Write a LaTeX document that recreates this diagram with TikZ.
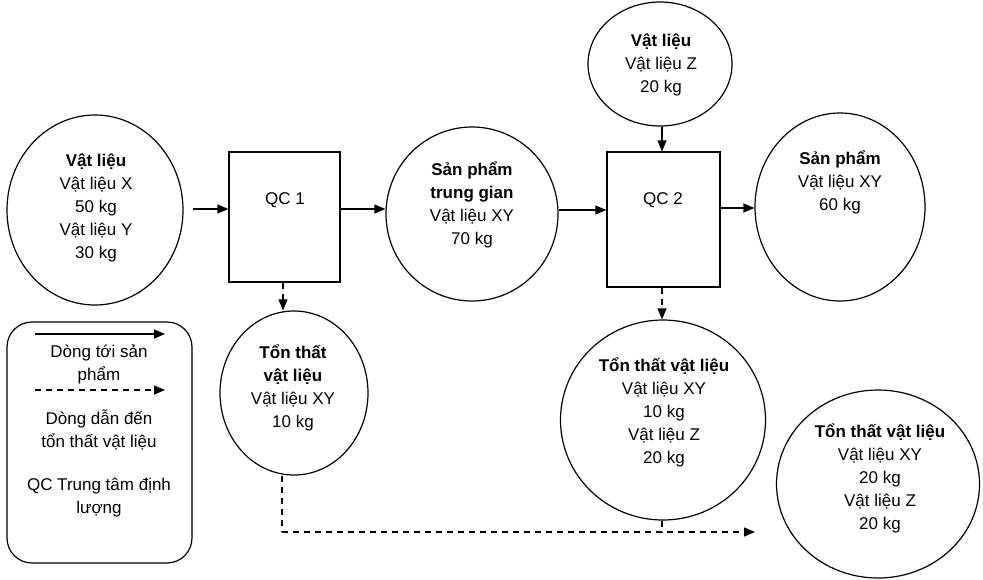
\documentclass[tikz,border=0pt]{standalone}
\usepackage{fontspec}
\setmainfont{Liberation Sans}
\usetikzlibrary{shapes.geometric,arrows.meta,calc}
\begin{document}
\begin{tikzpicture}[x=1pt,y=-1pt,
  every node/.style={font=\fontsize{17}{23}\selectfont},
  blob/.style={draw,ellipse,line width=1.2pt,inner sep=0pt},
  qcbox/.style={draw,rectangle,line width=1.2pt,inner sep=0pt},
  txt/.style={align=center,inner sep=0pt},
  flow/.style={line width=1.2pt,-{Triangle[length=11pt,width=9pt]}},
  lossflow/.style={line width=1.2pt,dash pattern=on 6pt off 5pt,-{Triangle[length=11pt,width=9pt]}},
  lossline/.style={line width=1.2pt,dash pattern=on 6pt off 5pt}
]
\useasboundingbox (0,0) rectangle (983,579);

% circles
\node[blob,minimum width=176pt,minimum height=190pt] (c1) at (95,210) {};
\node[blob,minimum width=172pt,minimum height=174pt] (c2) at (472,214) {};
\node[blob,minimum width=144pt,minimum height=124pt] (cz) at (660,64) {};
\node[blob,minimum width=170pt,minimum height=188pt] (c3) at (840,207) {};
\node[blob,minimum width=148pt,minimum height=164pt] (l1) at (294,393) {};
\node[blob,minimum width=205pt,minimum height=200pt] (l2) at (663,420) {};
\node[blob,minimum width=203pt,minimum height=188pt] (l3) at (878,484) {};

% boxes
\node[qcbox,minimum width=111pt,minimum height=130pt] (q1) at (284.5,217) {};
\node[qcbox,minimum width=113pt,minimum height=135pt] (q2) at (663.5,219.5) {};
\node[txt] (q1t) at (285,200) {QC 1};
\node[txt] (q2t) at (663,200) {QC 2};

% texts
\node[txt] (c1t) at (96,207.5) {\textbf{Vật liệu}\\Vật liệu X\\50 kg\\Vật liệu Y\\30 kg};
\node[txt] (c2t) at (472,205) {\textbf{Sản phẩm}\\\textbf{trung gian}\\Vật liệu XY\\70 kg};
\node[txt] (czt) at (661,64.5) {\textbf{Vật liệu}\\Vật liệu Z\\20 kg};
\node[txt] (c3t) at (840,182.5) {\textbf{Sản phẩm}\\Vật liệu XY\\60 kg};
\node[txt] (l1t) at (293,387.5) {\textbf{Tổn thất}\\\textbf{vật liệu}\\Vật liệu XY\\10 kg};
\node[txt] (l2t) at (664,412.5) {\textbf{Tổn thất vật liệu}\\Vật liệu XY\\10 kg\\Vật liệu Z\\20 kg};
\node[txt] (l3t) at (880,478) {\textbf{Tổn thất vật liệu}\\Vật liệu XY\\20 kg\\Vật liệu Z\\20 kg};

% flows
\coordinate (in1) at (193,209);
\draw[flow] (in1) -- (in1 -| q1.west);
\coordinate (y2) at (0,209);
\draw[flow] (q1.east |- y2) -- (c2.west |- y2);
\coordinate (y3) at (0,210);
\draw[flow] (c2.east |- y3) -- (q2.west |- y3);
\coordinate (y4) at (0,208);
\draw[flow] (q2.east |- y4) -- (c3.west |- y4);
\coordinate (xz) at (662,0);
\draw[flow] (cz.south -| xz) -- (q2.north -| xz);

% loss flows
\coordinate (x1) at (283,0);
\draw[lossflow] (q1.south -| x1) -- (l1.north -| x1);
\coordinate (x2) at (662,0);
\draw[lossflow] (q2.south -| x2) -- (l2.north -| x2);
\coordinate (corner) at (282,532);
\coordinate (lossend) at (755,532);
\draw[lossline] (l1.south -| corner) -- (corner);
\draw[lossflow] (corner) -- (lossend);
\draw[lossline] (l2.south -| x2) -- (corner -| x2);

% legend
\node[draw,rectangle,rounded corners=25pt,line width=1.2pt,minimum width=185pt,minimum height=241pt] (leg) at (99.5,442.5) {};
\coordinate (la1) at (35,334);
\coordinate (lb1) at (165,334);
\draw[flow] (la1) -- (lb1);
\node[txt] (legt1) at (99,364.5) {Dòng tới sản\\phẩm};
\coordinate (la2) at (35,390);
\coordinate (lb2) at (165,390);
\draw[lossflow] (la2) -- (lb2);
\node[txt] (legt2) at (99,430) {Dòng dẫn đến\\tổn thất vật liệu};
\node[txt] (legt3) at (99,498) {QC Trung tâm định\\lượng};
\end{tikzpicture}
\end{document}
